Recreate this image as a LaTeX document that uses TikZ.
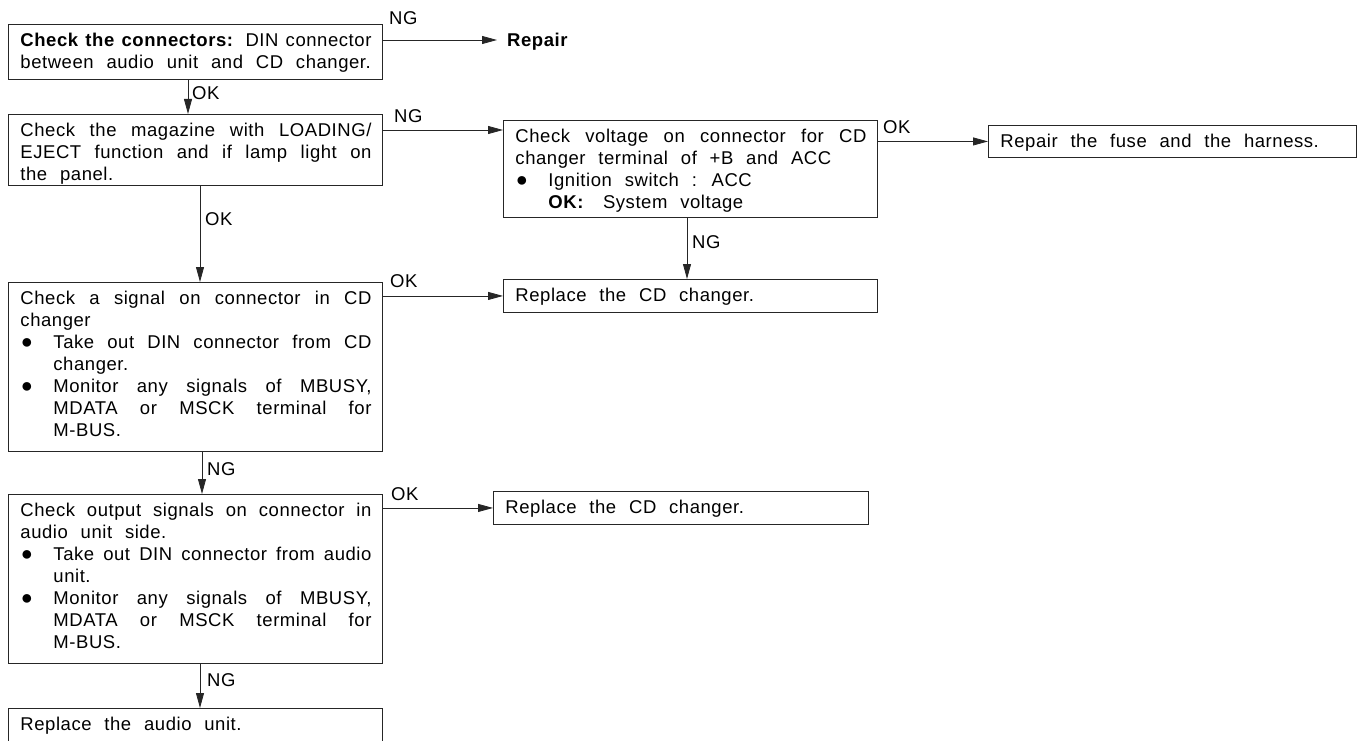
\documentclass[tikz,border=0pt]{standalone}
\usepackage{fontspec}
\setmainfont{Liberation Sans}[LetterSpace=3,WordSpace={2.25,2,4}]
\usetikzlibrary{arrows.meta}
\newlength\tw \setlength\tw{351pt}
\hbadness=10000 \hfuzz=30pt \vbadness=10000 \vfuzz=200pt
\newcommand\mystrut{\vrule height 15pt depth 6pt width 0pt\relax}
\newcommand\bul{\hspace*{0.5pt}{\fontsize{20pt}{20pt}\selectfont ●}}
\newcommand\J[1]{\hbox to \tw{\mystrut #1}}
\newcommand\N[1]{\hbox{\mystrut #1}}
\newcommand\JI[1]{\hbox to \tw{\mystrut\hspace*{33pt}#1}}
\newcommand\NI[1]{\hbox{\mystrut\hspace*{33pt}#1}}
\newcommand\JB[1]{\hbox to \tw{\mystrut\makebox[33pt][l]{\bul}#1}}
\newcommand\NB[1]{\hbox{\mystrut\makebox[33pt][l]{\bul}#1}}
\newcommand\boxc[3]{\vbox to #2{\hsize=#1\relax\vskip7.5pt\hbox to #1{\hskip12pt\vtop{\hsize=\tw\baselineskip=21.9pt\lineskiplimit=-50pt\lineskip=0pt #3}\hss}\vss}}
\begin{document}
\begin{tikzpicture}[x=1pt,y=-1pt,font=\fontsize{18.5pt}{21.9pt}\selectfont,
  box/.style={draw=black!85,line width=0.9pt,inner sep=0pt,anchor=north west},
  arr/.style={draw=black!85,line width=0.8pt,-{Triangle[length=15pt,width=8pt]}},
  lbl/.style={anchor=base west,inner sep=0pt}]
\useasboundingbox (0,0) rectangle (1362,741);
\clip (0,0) rectangle (1362,741);

% boxes
\node[box] (A) at (8,24) {\boxc{374pt}{55pt}{%
  \J{\textbf{Check the connectors:} DIN connector}%
  \N{between audio unit and CD changer.}}};
\node[anchor=base west,inner xsep=10pt,inner ysep=0pt,font=\fontsize{18.5pt}{21.9pt}\selectfont\bfseries] (R) at (497,46.5) {Repair};
\coordinate (Rin) at ([yshift=6.5pt]R.base west);

\node[box] (B) at (8,114) {\boxc{374pt}{71pt}{%
  \J{Check the magazine with LOADING/}%
  \J{EJECT function and if lamp light on}%
  \N{the panel.}}};

\node[box] (C) at (503,120) {\boxc{374pt}{97pt}{%
  \J{Check voltage on connector for CD}%
  \N{changer terminal of +B and ACC}%
  \NB{Ignition switch : ACC}%
  \NI{\textbf{OK:}\hspace{19pt}System voltage}}};

\node[box] (D) at (988,125) {\boxc{368pt}{32pt}{%
  \N{Repair the fuse and the harness.}}};

\node[box] (E) at (503,279) {\boxc{374pt}{33pt}{%
  \N{Replace the CD changer.}}};

\node[box] (F) at (8,282) {\boxc{374pt}{169pt}{%
  \J{Check a signal on connector in CD}%
  \N{changer}%
  \JB{Take out DIN connector from CD}%
  \NI{changer.}%
  \JB{Monitor any signals of MBUSY,}%
  \JI{MDATA or MSCK terminal for}%
  \NI{M-BUS.}}};

\node[box] (G) at (8,494) {\boxc{374pt}{169pt}{%
  \J{Check output signals on connector in}%
  \N{audio unit side.}%
  \JB{Take out DIN connector from audio}%
  \NI{unit.}%
  \JB{Monitor any signals of MBUSY,}%
  \JI{MDATA or MSCK terminal for}%
  \NI{M-BUS.}}};

\node[box] (H) at (493,491) {\boxc{375pt}{33pt}{%
  \N{Replace the CD changer.}}};

\node[box] (I) at (8,708) {\boxc{374pt}{45pt}{%
  \N{Replace the audio unit.}}};

% connectors
\draw[arr] (A.east |- Rin) -- (Rin);
\draw[arr] ([xshift=180pt]A.south west) -- ([xshift=180pt]B.north west);
\draw[arr] ([yshift=-16pt]B.north east) -- ([yshift=-16pt]B.north east -| C.west);
\draw[arr] (C.east |- D.west) -- (D.west);
\draw[arr] ([xshift=184pt]C.south west) -- ([xshift=184pt]E.north west);
\draw[arr] ([xshift=192pt]B.south west) -- ([xshift=192pt]F.north west);
\draw[arr] (F.east |- E.west) -- (E.west);
\draw[arr] ([xshift=194pt]F.south west) -- ([xshift=194pt]G.north west);
\draw[arr] (G.east |- H.west) -- (H.west);
\draw[arr] ([xshift=192pt]G.south west) -- ([xshift=192pt]I.north west);

% labels
\node[lbl] (l1) at (389,25) {NG};
\node[lbl] (l2) at (192,100) {OK};
\node[lbl] (l3) at (394,123) {NG};
\node[lbl] (l4) at (883,133) {OK};
\node[lbl] (l5) at (205,225) {OK};
\node[lbl] (l6) at (692,248) {NG};
\node[lbl] (l7) at (390,287) {OK};
\node[lbl] (l8) at (207,475) {NG};
\node[lbl] (l9) at (391,500) {OK};
\node[lbl] (l10) at (207,686) {NG};
\end{tikzpicture}
\end{document}
